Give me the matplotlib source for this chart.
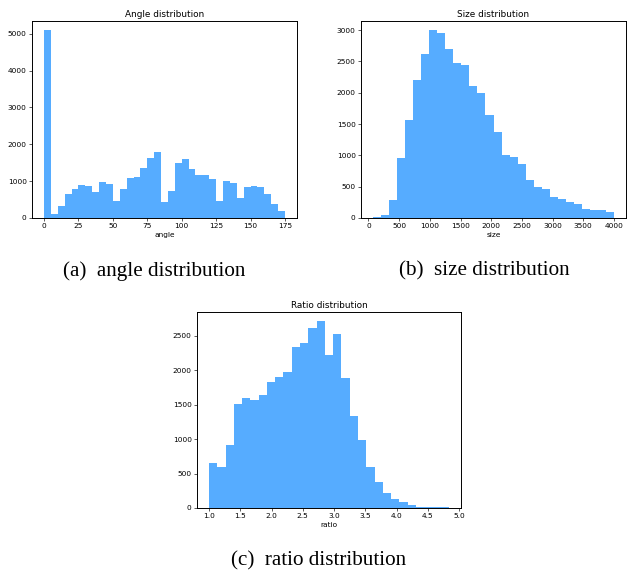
import matplotlib
matplotlib.use('Agg')
import matplotlib.pyplot as plt
import numpy as np

# angle histogram: 35 bins of width 5 from 0 to 175
angle_edges = np.linspace(0, 175, 36)
angle_counts = [5090, 100, 320, 640, 780, 890, 860, 700, 970, 920,
                460, 780, 1080, 1100, 1350, 1620, 1780, 430, 730, 1480,
                1600, 1320, 1160, 1160, 1050, 460, 1000, 940, 540, 840,
                860, 840, 640, 380, 190]

# size histogram: 30 bins from ~75 to 4000
size_edges = np.linspace(75, 4000, 31)
size_counts = [10, 40, 280, 950, 1570, 2210, 2610, 2995, 2960, 2690,
               2470, 2450, 2110, 2000, 1650, 1380, 1000, 980, 860, 600,
               500, 470, 340, 300, 250, 230, 150, 120, 120, 100]

# ratio histogram: 29 bins from 1.0 to ~4.84
ratio_edges = np.linspace(1.0, 4.84, 30)
ratio_counts = [660, 590, 920, 1510, 1600, 1570, 1640, 1830, 1900, 1970,
                2340, 2390, 2620, 2710, 2220, 2520, 1890, 1340, 990, 600,
                380, 220, 135, 80, 45, 20, 20, 8, 8]

panels = [
    ('Angle distribution', 'angle', angle_edges, angle_counts, '(a)  angle distribution'),
    ('Size distribution', 'size', size_edges, size_counts, '(b)  size distribution'),
    ('Ratio distribution', 'ratio', ratio_edges, ratio_counts, '(c)  ratio distribution'),
]

W, H = 631, 571
fig = plt.figure(figsize=(W / 100, H / 100), dpi=100)

# axes boxes in pixels: left, top, right, bottom
boxes = [(32, 21, 297, 218), (361, 21, 626, 218), (197, 312, 461, 508)]
captions_xy = [(154, 271), (484, 271), (319, 561)]

for (title, xlabel, edges, counts, caption), box, cxy in zip(panels, boxes, captions_xy):
    l, t, r, b = box
    ax = fig.add_axes([l / W, 1 - b / H, (r - l) / W, (b - t) / H])
    ax.hist(edges[:-1], bins=edges, weights=counts, color='dodgerblue', alpha=0.75)
    ax.set_title(title, fontsize=6.4, pad=3.2)
    ax.set_xlabel(xlabel, fontsize=5.3, labelpad=2.1)
    ax.tick_params(labelsize=5.3, length=1.9, width=0.45, pad=1.9)
    for sp in ax.spines.values():
        sp.set_linewidth(0.7)
    fig.text(cxy[0] / W, 1 - cxy[1] / H, caption, ha='center', va='center',
             fontsize=15.2, family='Liberation Serif')

fig.savefig('out.png', dpi=100)
